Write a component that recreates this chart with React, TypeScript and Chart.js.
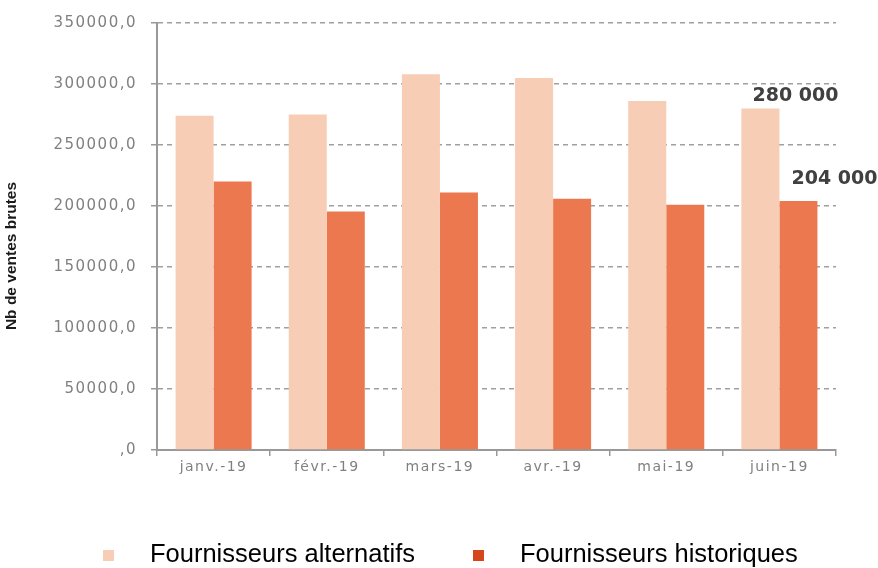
import React, { useEffect, useRef } from "react";
import { Chart, registerables } from "chart.js";

Chart.register(...registerables);

const categories = ["janv.-19", "févr.-19", "mars-19", "avr.-19", "mai-19", "juin-19"];
const alternatifs = [274000, 275000, 308000, 305000, 286000, 280000];
const historiques = [220000, 195500, 211000, 206000, 201000, 204000];
const seriesNames = ["Fournisseurs alternatifs", "Fournisseurs historiques"];
const pointLabels = ["280 000", "204 000"];
const yTitle = "Nb de ventes brutes";

const colAlt = "#F8CDB6";
const colHist = "#EC7850";
const colHistLegend = "#D5461B";

export default function App() {
  const ref = useRef<HTMLCanvasElement | null>(null);

  useEffect(() => {
    if (!ref.current) return;
    const spacingPlugin = {
      id: "spacing",
      beforeDraw(chart: any) {
        chart.ctx.letterSpacing = "1.5px";
      },
      afterDraw(chart: any) {
        const ctx = chart.ctx;
        ctx.save();
        ctx.letterSpacing = "0px";
        // y title
        ctx.save();
        ctx.translate(12, 256);
        ctx.rotate(-Math.PI / 2);
        ctx.fillStyle = "#1a1a1a";
        ctx.font = "bold 15.5px 'Liberation Sans Narrow', 'Arial Narrow', 'Liberation Sans', sans-serif";
        ctx.textAlign = "center";
        ctx.textBaseline = "middle";
        ctx.fillText(yTitle, 0, 0);
        ctx.restore();

        // data labels on last category
        ctx.font = "bold 19px 'DejaVu Sans', sans-serif";
        ctx.fillStyle = "#404040";
        ctx.textAlign = "center";
        ctx.textBaseline = "bottom";
        const last = categories.length - 1;
        const m0 = chart.getDatasetMeta(0).data[last];
        const m1 = chart.getDatasetMeta(1).data[last];
        ctx.fillText(pointLabels[0], m0.x + 35, m0.y - 3);
        ctx.fillText(pointLabels[1], m1.x + 36, m1.y - 13);

        // legend
        ctx.font = "25.5px 'Liberation Sans', Arial, sans-serif";
        ctx.textAlign = "left";
        ctx.textBaseline = "middle";
        const ly = 555;
        ctx.fillStyle = colAlt;
        ctx.fillRect(103, ly - 5, 11, 11);
        ctx.fillStyle = "#000";
        ctx.fillText(seriesNames[0], 150, ly);
        ctx.fillStyle = colHistLegend;
        ctx.fillRect(473, ly - 5, 11, 11);
        ctx.fillStyle = "#000";
        ctx.fillText(seriesNames[1], 520, ly);
        ctx.restore();
      },
    };

    const chart = new Chart(ref.current, {
      type: "bar",
      data: {
        labels: categories,
        datasets: [
          { label: seriesNames[0], data: alternatifs, backgroundColor: colAlt, barPercentage: 1, categoryPercentage: 0.672 },
          { label: seriesNames[1], data: historiques, backgroundColor: colHist, barPercentage: 1, categoryPercentage: 0.672 },
        ],
      },
      options: {
        animation: false,
        responsive: false,
        maintainAspectRatio: false,
        layout: { padding: { top: 22, right: 42, left: 0, bottom: 0 } },
        plugins: { legend: { display: false }, tooltip: { enabled: false } },
        scales: {
          x: {
            afterFit: (s: any) => { s.height = 118; },
            grid: { drawOnChartArea: false, drawTicks: true, tickLength: 6, color: "#999", lineWidth: 1.5, offset: true },
            border: { display: true, color: "#999", width: 2 },
            ticks: { color: "#808080", font: { family: "'DejaVu Sans', sans-serif", size: 14 }, padding: 3 },
          },
          y: {
            min: 0,
            max: 350000,
            afterFit: (s: any) => { s.width = 157; },
            grid: { color: "#a0a0a0", lineWidth: 1.5, tickLength: 6, drawTicks: true, tickColor: "#999" },
            border: { display: true, color: "#999", width: 2, dash: [5, 4] },
            ticks: {
              stepSize: 50000,
              padding: 14,
              color: "#808080",
              font: { family: "'DejaVu Sans', sans-serif", size: 15 },
              callback: (v: any) => (Number(v) === 0 ? ",0" : Number(v).toFixed(1).replace(".", ",")),
            },
          },
        },
      },
      plugins: [spacingPlugin],
    });
    return () => chart.destroy();
  }, []);

  return (
    <div style={{ position: "absolute", left: 0, top: 0, width: 878, height: 568 }}>
      <canvas ref={ref} width={878} height={568} style={{ width: 878, height: 568 }} />
    </div>
  );
}
